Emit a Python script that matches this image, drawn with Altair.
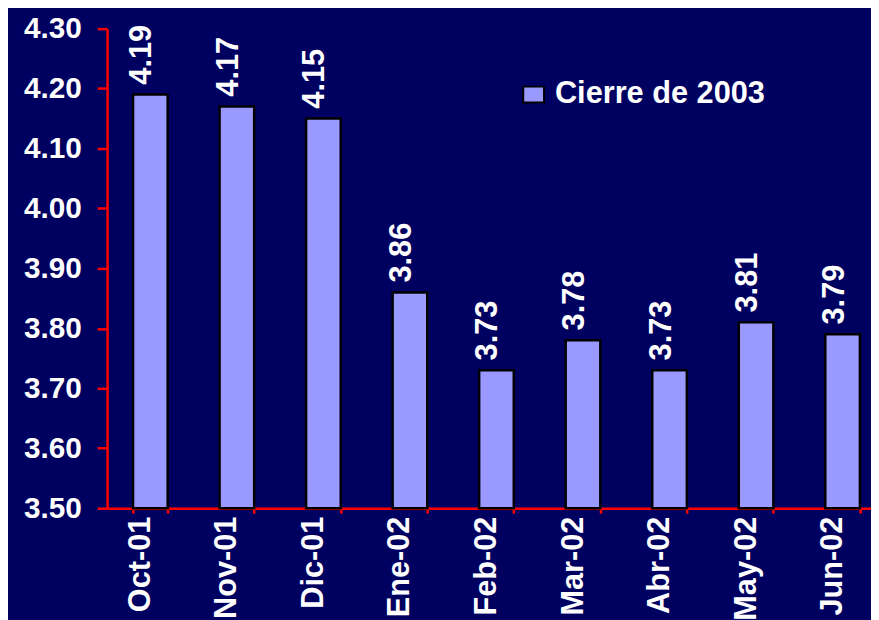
import altair as alt
import pandas as pd

months = ["Oct-01", "Nov-01", "Dic-01", "Ene-02", "Feb-02", "Mar-02", "Abr-02", "May-02", "Jun-02"]
values = [4.19, 4.17, 4.15, 3.86, 3.73, 3.78, 3.73, 3.81, 3.79]
series = "Cierre de 2003"
y_ticks = [3.5, 3.6, 3.7, 3.8, 3.9, 4.0, 4.1, 4.2, 4.3]
y_base = 3.5

df = pd.DataFrame({"mes": months, "valor": values, "serie": [series] * len(months)})

FONT = "Liberation Sans"
BG = "#000060"
BAR = "#9999FF"
RED = "#FF0000"

x = alt.X(
    "mes:N",
    sort=months,
    title=None,
    scale=alt.Scale(paddingInner=0.6, paddingOuter=0.3, range=[0, 786]),
    axis=alt.Axis(
        labelAngle=270, labelAlign="right", labelBaseline="middle",
        labelFont=FONT, labelFontSize=31, labelFontWeight="bold", labelColor="white",
        labelPadding=3, labelOffset=-10, labelLimit=0,
        domainColor=RED, domainWidth=2.5,
        tickColor=RED, tickWidth=2.5, tickSize=5, tickBand="extent",
        grid=False, labelOverlap=False,
    ),
)

y = alt.Y(
    "valor:Q",
    title=None,
    scale=alt.Scale(domain=[3.5, 4.3], zero=False, nice=False),
    axis=alt.Axis(
        values=y_ticks, format=".2f",
        labelFont=FONT, labelFontSize=30, labelFontWeight="bold", labelColor="white",
        labelPadding=16,
        domainColor=RED, domainWidth=2.5,
        tickColor=RED, tickWidth=2.5, tickSize=10,
        grid=False,
    ),
)

bars = alt.Chart(df).mark_bar(stroke="black", strokeWidth=2.5).encode(
    x=x,
    y=y,
    y2=alt.datum(y_base),
    fill=alt.Fill(
        "serie:N",
        scale=alt.Scale(domain=[series], range=[BAR]),
        legend=alt.Legend(
            title=None, orient="none", legendX=415, legendY=51,
            symbolType="M-1,-0.76H1V0.76H-1Z", symbolSize=441,
            symbolStrokeColor="black", symbolStrokeWidth=2, symbolFillColor=BAR,
            labelFont=FONT, labelFontSize=31, labelFontWeight="bold", labelColor="white",
            labelOffset=6, padding=0, labelLimit=0,
        ),
    ),
)

labels = alt.Chart(df).mark_text(
    angle=270, align="left", baseline="middle", dx=10, dy=-8,
    font=FONT, fontSize=31, fontWeight="bold", color="white",
).encode(
    x=alt.X("mes:N", sort=months),
    y=alt.Y("valor:Q"),
    text=alt.Text("valor:Q", format=".2f"),
)

chart = (
    alt.layer(bars, labels)
    .properties(
        width=771, height=484,
        autosize=alt.AutoSizeParams(type="none"),
        padding={"left": 100, "top": 18, "right": 0, "bottom": 110},
        background=BG,
    )
    .configure_view(stroke=None)
)

chart.save("out.html", embed_options={"renderer": "svg", "actions": False})
